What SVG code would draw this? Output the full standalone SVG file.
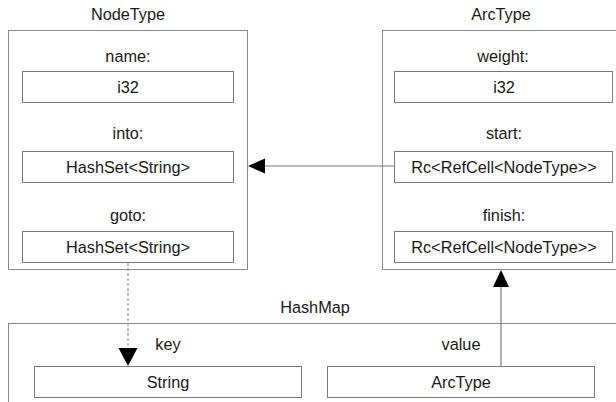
<svg xmlns="http://www.w3.org/2000/svg" width="616" height="402" viewBox="0 0 616 402">
  <style>
    .frame { fill: #ffffff; stroke: #8a8a8a; stroke-width: 1; }
    .field { fill: #ffffff; stroke: #7a7a7a; stroke-width: 1; }
    text { font-family: "Liberation Sans", Arial, sans-serif; font-size: 16.3px; fill: #1a1a1a; text-anchor: middle; }
    .wire { fill: none; stroke: #7a7a7a; stroke-width: 1.2; }
    .dashed { stroke-dasharray: 3 2; stroke: #9a9a9a; }
    .head { fill: #000000; stroke: none; }
  </style>
  <rect width="616" height="402" fill="#ffffff"/>

  <!-- NodeType struct -->
  <g id="nodetype">
    <text x="128" y="20">NodeType</text>
    <rect class="frame" x="8.5" y="30.5" width="239" height="239"/>
    <text x="128" y="62">name:</text>
    <rect class="field" x="22.5" y="71.5" width="211" height="31"/>
    <text x="128" y="92.5">i32</text>
    <text x="128" y="139">into:</text>
    <rect class="field" x="22.5" y="151.5" width="211" height="31"/>
    <text x="128" y="172.5">HashSet&lt;String&gt;</text>
    <text x="128" y="221">goto:</text>
    <rect class="field" x="22.5" y="231.5" width="211" height="31"/>
    <text x="128" y="252.5">HashSet&lt;String&gt;</text>
  </g>

  <!-- ArcType struct -->
  <g id="arctype">
    <text x="501" y="20">ArcType</text>
    <rect class="frame" x="382.5" y="30.5" width="240" height="239"/>
    <text x="503" y="62">weight:</text>
    <rect class="field" x="394.5" y="71.5" width="218" height="31"/>
    <text x="504" y="92.5">i32</text>
    <text x="504" y="139">start:</text>
    <rect class="field" x="394.5" y="151.5" width="218" height="31"/>
    <text x="504" y="172.5">Rc&lt;RefCell&lt;NodeType&gt;&gt;</text>
    <text x="504" y="221">finish:</text>
    <rect class="field" x="394.5" y="231.5" width="218" height="31"/>
    <text x="504" y="252.5">Rc&lt;RefCell&lt;NodeType&gt;&gt;</text>
  </g>

  <!-- HashMap container -->
  <g id="hashmap">
    <text x="315" y="313">HashMap</text>
    <rect class="frame" x="8.5" y="323.5" width="620" height="100"/>
    <text x="168" y="350">key</text>
    <rect class="field" x="34.5" y="366.5" width="267" height="31"/>
    <text x="168" y="388">String</text>
    <text x="461" y="350">value</text>
    <rect class="field" x="327.5" y="366.5" width="267" height="31"/>
    <text x="461" y="388">ArcType</text>
  </g>

  <!-- Connectors -->
  <g id="connectors">
    <!-- start -> NodeType -->
    <line class="wire" x1="394" y1="166" x2="264" y2="166"/>
    <polygon class="head" points="248,166 265,158.5 265,173.5"/>
    <!-- goto -> key -->
    <line class="wire dashed" x1="128" y1="263" x2="128" y2="349"/>
    <polygon class="head" points="128,366 118.5,348 137.5,348"/>
    <!-- value -> ArcType -->
    <line class="wire" x1="501" y1="366" x2="501" y2="286"/>
    <polygon class="head" points="501,270 493,287 509,287"/>
  </g>
</svg>
